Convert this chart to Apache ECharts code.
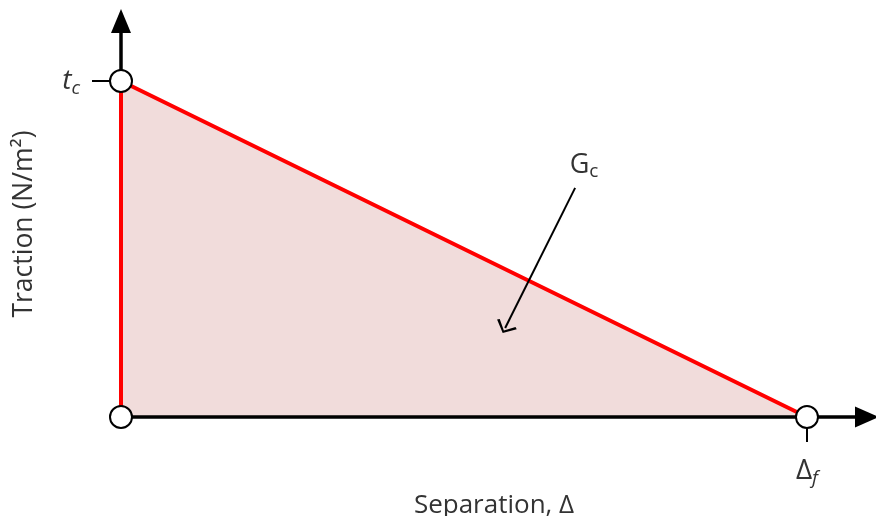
<!DOCTYPE html>
<html>
<head>
<meta charset="utf-8">
<title>Bilinear cohesive law</title>
<script src="https://cdn.jsdelivr.net/npm/echarts@6/dist/echarts.min.js"></script>
<style>
  html, body { margin: 0; padding: 0; background: #fff; }
  #chart { width: 876px; height: 516px; }
</style>
</head>
<body>
<div id="chart"></div>
<script>
// Traction–separation law: linear softening from the peak traction t_c
// down to zero at the final separation Δ_f (normalised units).
const separation = [0, 0, 1];
const traction = [0, 1, 0];

// Key points marked with open circles
const keyPointsX = [0, 0, 1];
const keyPointsY = [0, 1, 0];

// Custom tick positions and their labels
const yTickValues = [1];
const yTickLabels = ['{i|t}{is|c}'];
const xTickValues = [1];
const xTickLabels = ['{n|Δ}{is|f}'];

// Fracture energy annotation: label position, arrow start and arrow end
const energyLabel = [0.675, 0.75];
const energyArrowFrom = [0.662, 0.682];
const energyArrowTo = [0.56, 0.265];

const axisMaxX = 1.0875;
const axisMaxY = 1.1786;

const FONT = '"Open Sans", "DejaVu Sans", sans-serif';
const TEXT = '#333';

const richBase = {
  n:  { fontFamily: FONT, fontSize: 28, color: TEXT },
  g:  { fontFamily: FONT, fontSize: 27, color: TEXT },
  i:  { fontFamily: FONT, fontSize: 28, fontStyle: 'italic', color: TEXT },
  is: { fontFamily: FONT, fontSize: 19, fontStyle: 'italic', color: TEXT, padding: [15, 0, 0, 0] },
  s:  { fontFamily: FONT, fontSize: 19, color: TEXT, padding: [13, 0, 0, 0] }
};

const chart = echarts.init(document.getElementById('chart'), null, { renderer: 'canvas' });

// Open arrow head, drawn pointing up; the marker line rotates it along the line
const openChevron = 'path://M0,86 L50,0 L100,86 L90,100 L50,24 L10,100 Z';

chart.setOption({
  animation: false,
  backgroundColor: '#fff',
  grid: { left: 121, right: 9, top: 21, bottom: 99, outerBoundsMode: 'none', containLabel: false },
  xAxis: {
    type: 'value',
    z: 8,
    min: 0,
    max: axisMaxX,
    name: 'Separation, Δ',
    nameLocation: 'middle',
    nameGap: 53,
    nameTextStyle: { fontFamily: FONT, fontSize: 26, color: TEXT },
    axisLine: {
      show: true, onZero: false,
      lineStyle: { color: '#000', width: 3.5 },
      symbol: ['none', 'triangle'],
      symbolSize: [21, 24]
    },
    axisTick: {
      show: true, customValues: xTickValues, length: 25,
      lineStyle: { color: '#000', width: 2 }
    },
    axisLabel: {
      show: true, customValues: xTickValues, margin: 37,
      fontFamily: FONT, fontSize: 28, color: TEXT,
      formatter: (v) => xTickLabels[xTickValues.indexOf(v)] || '',
      rich: richBase
    },
    splitLine: { show: false }
  },
  yAxis: {
    type: 'value',
    z: 0,
    min: 0,
    max: axisMaxY,
    name: 'Traction (N/m²)',
    nameLocation: 'middle',
    nameGap: 83,
    nameRotate: 90,
    nameTextStyle: { fontFamily: FONT, fontSize: 26.5, color: TEXT, padding: [0, 10, 0, 0] },
    axisLine: {
      show: true, onZero: false,
      lineStyle: { color: '#000', width: 3.5 },
      symbol: ['none', 'triangle'],
      symbolSize: [20, 24]
    },
    axisTick: {
      show: true, customValues: yTickValues, length: 29,
      lineStyle: { color: '#000', width: 2 }
    },
    axisLabel: {
      show: true, customValues: yTickValues, margin: 41,
      fontFamily: FONT, fontSize: 28, color: TEXT,
      formatter: (v) => yTickLabels[yTickValues.indexOf(v)] || '',
      rich: richBase
    },
    splitLine: { show: false }
  },
  series: [
    {
      name: 'Cohesive law',
      type: 'line',
      data: separation.map((x, k) => [x, traction[k]]),
      showSymbol: false,
      symbol: 'none',
      z: 5,
      lineStyle: { color: '#ff0000', width: 4 },
      areaStyle: { color: '#f1dcdb', opacity: 1, origin: 'start' }
    },
    {
      name: 'Fracture energy',
      type: 'line',
      data: [],
      z: 20,
      markPoint: {
        z: 25,
        symbol: 'circle',
        symbolSize: 0,
        label: {
          show: true,
          position: 'inside',
          formatter: '{g|G}{s|c}',
          rich: richBase
        },
        data: [{ coord: energyLabel }]
      },
      markLine: {
        z: 25,
        silent: true,
        symbol: ['none', openChevron],
        symbolSize: [22, 11],
        lineStyle: { color: '#000', width: 2, type: 'solid' },
        label: { show: false },
        data: [[{ coord: energyArrowFrom }, { coord: energyArrowTo }]]
      }
    },
    {
      name: 'Key points',
      type: 'scatter',
      data: keyPointsX.map((x, k) => [x, keyPointsY[k]]),
      symbol: 'circle',
      symbolSize: 22,
      z: 30,
      itemStyle: { color: '#fff', borderColor: '#000', borderWidth: 2, opacity: 1 }
    }
  ]
});
</script>
</body>
</html>
